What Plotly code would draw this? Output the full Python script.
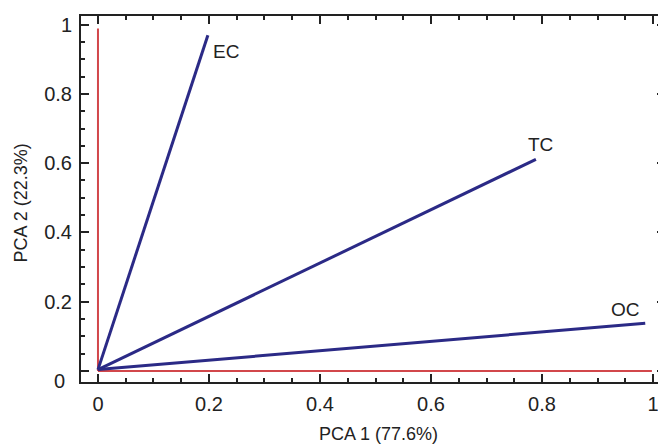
import plotly.graph_objects as go

variables = ["EC", "TC", "OC"]
pc1 = [0.198, 0.789, 0.986]
pc2 = [0.969, 0.611, 0.138]

# reference axes drawn in red (component directions)
ref_x_vertical = [0, 0]
ref_y_vertical = [0, 0.989]
ref_x_horizontal = [0, 0.998]
ref_y_horizontal = [0, 0]

tick_vals = [0, 0.2, 0.4, 0.6, 0.8, 1]
x_tick_text = ["0", "0.2", "0.4", "0.6", "0.8", "1"]
y_tick_text = ["", "0.2", "0.4", "0.6", "0.8", "1"]

label_shift = {"EC": (18, -16), "TC": (5, 15), "OC": (-20, 14)}

FONT = "Liberation Sans, Arial"

fig = go.Figure()
fig.add_trace(go.Scatter(x=ref_x_vertical, y=ref_y_vertical, mode="lines",
                         line=dict(color="#d2474b", width=2), showlegend=False, hoverinfo="skip"))
fig.add_trace(go.Scatter(x=ref_x_horizontal, y=ref_y_horizontal, mode="lines",
                         line=dict(color="#d2474b", width=2), showlegend=False, hoverinfo="skip"))
for v, a, b in zip(variables, pc1, pc2):
    fig.add_trace(go.Scatter(x=[0, a], y=[0.004, b], mode="lines",
                             line=dict(color="#2b2a86", width=3), showlegend=False))
    dx, dy = label_shift[v]
    fig.add_annotation(x=a, y=b, text=v, showarrow=False, xshift=dx, yshift=dy,
                       font=dict(family=FONT, size=19, color="#222"))

axis_common = dict(
    showline=True, linecolor="#222", linewidth=2, mirror="allticks",
    ticks="inside", ticklen=8, tickwidth=2, tickcolor="#222",
    tickvals=tick_vals, ticklabelstandoff=3,
    tickfont=dict(family=FONT, size=20, color="#222"),
    minor=dict(dtick=0.05, ticks="inside", ticklen=4, tickwidth=2, tickcolor="#222", showgrid=False),
    showgrid=False, zeroline=False, automargin=False,
)

fig.update_xaxes(range=[-0.0306, 1.0216], ticktext=x_tick_text, **axis_common)
fig.update_yaxes(range=[-0.0318, 1.0248], ticktext=y_tick_text, **axis_common)

# y-axis "0" label sits slightly below its tick in the reference
fig.add_annotation(text=str(tick_vals[0]), xref="paper", yref="y", x=0, y=tick_vals[0],
                   xshift=-14, yshift=-10, showarrow=False, xanchor="right", yanchor="middle",
                   font=dict(family=FONT, size=20, color="#222"))

fig.add_annotation(text="PCA 1 (77.6%)", xref="paper", yref="paper", x=0.509, y=0,
                   yshift=-52, showarrow=False, xanchor="center", yanchor="middle",
                   font=dict(family=FONT, size=18, color="#222"))
fig.add_annotation(text="PCA 2 (22.3%)", xref="paper", yref="paper", x=0, y=0.488,
                   xshift=-60, showarrow=False, xanchor="center", yanchor="middle", textangle=-90,
                   font=dict(family=FONT, size=18, color="#222"))

# page body has an 8px default margin, so the figure is sized to fit the window
fig.update_layout(width=658, height=437, margin=dict(l=73, r=1, t=8, b=63),
                  plot_bgcolor="white", paper_bgcolor="white")

fig.write_html("out.html")
